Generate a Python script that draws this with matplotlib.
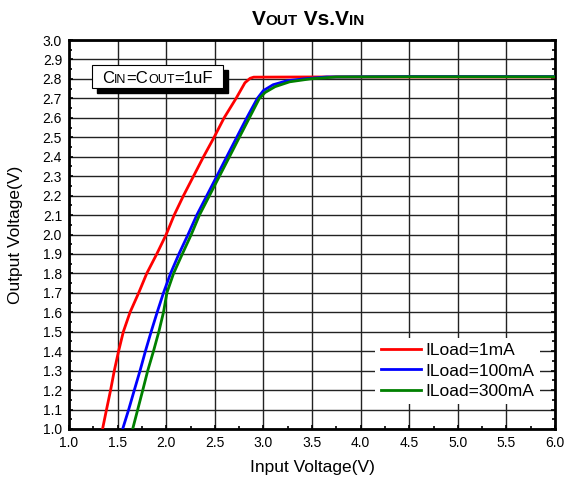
import numpy as np
import matplotlib
matplotlib.use("Agg")
import matplotlib.pyplot as plt
from matplotlib.ticker import MultipleLocator
from matplotlib.patches import Rectangle
from matplotlib.transforms import IdentityTransform

plt.rcParams['font.family'] = ['Liberation Sans', 'DejaVu Sans']

# data
vin_1ma = [1.345, 1.386, 1.428, 1.466, 1.51, 1.559, 1.628, 1.717, 1.80, 1.903, 2.0,
           2.082, 2.178, 2.281, 2.384, 2.493, 2.596, 2.719, 2.81, 2.863, 2.90, 3.5, 4.5, 6.0]
vout_1ma = [1.0, 1.1, 1.2, 1.3, 1.4, 1.5, 1.6, 1.7, 1.8, 1.9, 2.0,
            2.1, 2.2, 2.3, 2.4, 2.5, 2.6, 2.7, 2.78, 2.803, 2.809, 2.81, 2.81, 2.81]

vin_100ma = [1.552, 1.614, 1.672, 1.731, 1.786, 1.845, 1.907, 1.972, 2.045, 2.131, 2.225,
             2.315, 2.418, 2.521, 2.623, 2.726, 2.829, 2.938, 3.0, 3.10, 3.24, 3.41, 3.65, 4.5, 6.0]
vout_100ma = [1.0, 1.1, 1.2, 1.3, 1.4, 1.5, 1.6, 1.7, 1.8, 1.9, 2.0,
              2.1, 2.2, 2.3, 2.4, 2.5, 2.6, 2.7, 2.74, 2.77, 2.79, 2.80, 2.81, 2.812, 2.812]

vin_300ma = [1.655, 1.707, 1.759, 1.81, 1.869, 1.924, 1.972, 2.007, 2.076, 2.166, 2.258,
             2.342, 2.445, 2.548, 2.651, 2.753, 2.856, 2.959, 3.017, 3.12, 3.27, 3.48, 3.75, 4.5, 6.0]
vout_300ma = [1.0, 1.1, 1.2, 1.3, 1.4, 1.5, 1.6, 1.7, 1.8, 1.9, 2.0,
              2.1, 2.2, 2.3, 2.4, 2.5, 2.6, 2.7, 2.73, 2.76, 2.785, 2.80, 2.81, 2.811, 2.811]

labels = ["ILoad=1mA", "ILoad=100mA", "ILoad=300mA"]
colors = ["#ff0000", "#0000ff", "#008000"]

W, H = 568, 483
fig = plt.figure(figsize=(W / 100, H / 100), dpi=100)
ax = fig.add_axes([69 / W, 1 - 429 / H, (555 - 69) / W, (429 - 40) / H])

ax.plot(vin_1ma, vout_1ma, color=colors[0], lw=2, label=labels[0], zorder=3)
ax.plot(vin_100ma, vout_100ma, color=colors[1], lw=2, label=labels[1], zorder=3)
ax.plot(vin_300ma, vout_300ma, color=colors[2], lw=2, label=labels[2], zorder=3)

ax.set_xlim(1.0, 6.0)
ax.set_ylim(1.0, 3.0)
ax.xaxis.set_major_locator(MultipleLocator(0.5))
ax.xaxis.set_minor_locator(MultipleLocator(0.25))
ax.yaxis.set_major_locator(MultipleLocator(0.1))
ax.yaxis.set_minor_locator(MultipleLocator(0.05))
ax.xaxis.set_major_formatter(lambda v, p: f"{v:.1f}")
ax.yaxis.set_major_formatter(lambda v, p: f"{v:.1f}")

ax.grid(True, which='major', color='#222222', lw=1)
ax.tick_params(which='both', direction='in', top=False, right=True, labelsize=10,
               width=1.2, color='black')
ax.tick_params(which='major', length=3, pad=5)
ax.tick_params(which='minor', length=2.5)
for sp in ax.spines.values():
    sp.set_linewidth(2)

ax.set_xlabel("Input Voltage(V)", fontsize=12.5, labelpad=7)
ax.set_ylabel("Output Voltage(V)", fontsize=12.5, labelpad=14)

leg = ax.legend(loc='lower right', bbox_to_anchor=(0.969, 0.064), borderaxespad=0,
                fontsize=12.5, frameon=True, fancybox=False, edgecolor='white',
                framealpha=1, handlelength=2.3, labelspacing=0.3, borderpad=0.3,
                handletextpad=0.3)
leg.get_frame().set_linewidth(0)


# small caps style text: pieces of different sizes on one baseline
def piece_text(x_px, y_px, parts, center=False, **kw):
    renderer = fig.canvas.get_renderer()
    texts = []
    x = x_px
    y = H - y_px
    for s, size in parts:
        t = fig.text(x, y, s, fontsize=size, ha='left', va='baseline',
                     transform=IdentityTransform(), **kw)
        x = t.get_window_extent(renderer).x1
        texts.append(t)
    if center:
        shift = (x - x_px) / 2
        for t in texts:
            px, py = t.get_position()
            t.set_position((px - shift, py))
    return texts


# annotation box with shadow
fig.patches.append(Rectangle((97, H - 93), 131, 23, transform=IdentityTransform(),
                             facecolor='black', edgecolor='black', zorder=5))
fig.patches.append(Rectangle((92, H - 88), 131, 23, transform=IdentityTransform(),
                             facecolor='white', edgecolor='black', lw=0.8, zorder=6))
piece_text(102, 83, [("C", 12), ("IN", 9), ("=C", 12), ("OUT", 9), ("=1uF", 12)],
           zorder=7)

# title
piece_text(308, 25, [("V", 15), ("OUT", 11), (" Vs.", 15), ("V", 15), ("IN", 11)],
           center=True, fontweight='bold')

fig.savefig("out.png", dpi=100)
